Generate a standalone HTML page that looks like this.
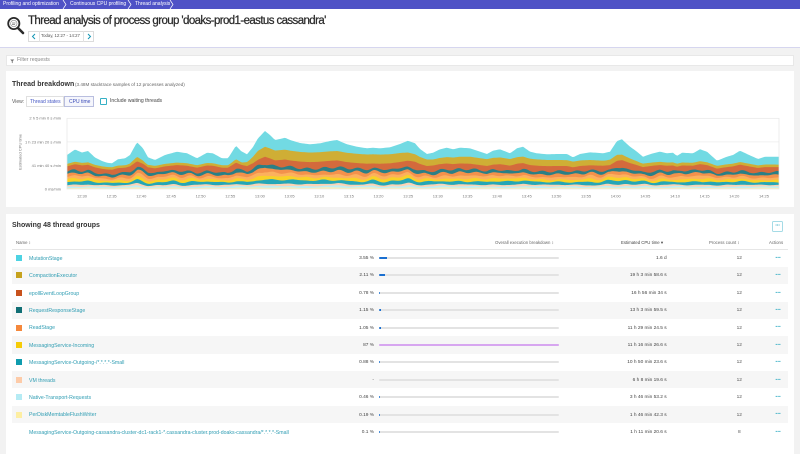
<!DOCTYPE html>
<html><head><meta charset="utf-8">
<style>
*{margin:0;padding:0;box-sizing:border-box}
html,body{width:800px;height:441px;overflow:hidden;background:#f2f2f2;font-family:"Liberation Sans",sans-serif;color:#333}
.a{position:absolute;white-space:nowrap}
.bc{font-size:5px;color:#fff;line-height:5px;top:2px}
.panel{position:absolute;background:#fff}
.row{position:absolute;left:12px;width:776px;height:17.4px}
.row.g{background:#f6f6f6}
.sq{position:absolute;left:4px;top:5.7px;width:6px;height:6px}
.nm{position:absolute;left:17px;top:7.5px;font-size:5.2px;line-height:5.2px;color:#2f9db3;white-space:nowrap}
.pc{position:absolute;right:414px;top:7.8px;font-size:4.8px;line-height:4.8px;color:#444;white-space:nowrap}
.tr{position:absolute;left:367.3px;top:7.7px;width:179.4px;height:2px;background:#e3e3e3;border-radius:1px;overflow:hidden}
.tr i{position:absolute;left:0;top:0;height:2px;background:#1a6fd0}
.cp{position:absolute;right:121.3px;top:7.8px;font-size:4.8px;line-height:4.8px;color:#444;white-space:nowrap}
.ct{position:absolute;left:717.3px;width:20px;text-align:center;top:7.8px;font-size:4.8px;line-height:4.8px;color:#555}
.ac{position:absolute;left:758px;width:16px;text-align:center;top:5.5px;font-size:7px;line-height:7px;color:#27a8c0;font-weight:bold;letter-spacing:-0.5px}
.th{font-size:4.3px;line-height:4.3px;color:#666;top:240.8px}
</style></head><body>

<!-- breadcrumb bar -->
<div class="a" style="left:0;top:0;width:800px;height:9px;background:#4f52c6"></div>
<div class="a bc" style="left:3px">Profiling and optimization</div>
<svg class="a" style="left:62px;top:0" width="6" height="9"><polyline points="1,0 4,4.5 1,9" fill="none" stroke="#fff" stroke-width="0.7"/></svg>
<div class="a bc" style="left:70px">Continuous CPU profiling</div>
<svg class="a" style="left:127px;top:0" width="6" height="9"><polyline points="1,0 4,4.5 1,9" fill="none" stroke="#fff" stroke-width="0.7"/></svg>
<div class="a bc" style="left:135px">Thread analysis</div>
<svg class="a" style="left:169px;top:0" width="6" height="9"><polyline points="1,0 4,4.5 1,9" fill="none" stroke="#fff" stroke-width="0.7"/></svg>

<!-- header -->
<div class="a" style="left:0;top:9px;width:800px;height:39px;background:#fff;border-bottom:1px solid #d6d6ef"></div>
<svg class="a" style="left:6px;top:16px" width="20" height="19">
  <circle cx="7.8" cy="7.5" r="5.6" fill="#fff" stroke="#2a2a2a" stroke-width="1.8"/>
  <circle cx="7.8" cy="7.5" r="3.2" fill="none" stroke="#888" stroke-width="0.6"/>
  <line x1="6" y1="7" x2="9.5" y2="7" stroke="#555" stroke-width="0.6"/>
  <line x1="6" y1="8.5" x2="9" y2="8.5" stroke="#555" stroke-width="0.6"/>
  <line x1="12" y1="12" x2="17" y2="17" stroke="#2a2a2a" stroke-width="2.6" stroke-linecap="round"/>
</svg>
<div class="a" style="left:28px;top:15.8px;font-size:11.5px;line-height:11.5px;letter-spacing:-0.6px;color:#2b2b2b;-webkit-text-stroke:0.25px #2b2b2b">Thread analysis of process group 'doaks-prod1-eastus cassandra'</div>
<div class="a" style="left:28px;top:31px;width:66px;height:11px;border:1px solid #dcdcdc;background:#fff"></div>
<div class="a" style="left:39px;top:31px;width:1px;height:11px;background:#e2e2e2"></div>
<div class="a" style="left:83px;top:31px;width:1px;height:11px;background:#e2e2e2"></div>
<svg class="a" style="left:31px;top:33px" width="6" height="7"><polyline points="4,1 1.5,3.5 4,6" fill="none" stroke="#1496b4" stroke-width="1"/></svg>
<svg class="a" style="left:86px;top:33px" width="6" height="7"><polyline points="2,1 4.5,3.5 2,6" fill="none" stroke="#1496b4" stroke-width="1"/></svg>
<div class="a" style="left:41px;top:34.4px;font-size:4.3px;line-height:4.3px;color:#555">Today, 12:27 - 14:27</div>

<!-- filter bar -->
<div class="a" style="left:6px;top:55px;width:788px;height:11px;background:#fff;border:1px solid #e8e8e8"></div>
<svg class="a" style="left:10px;top:58.5px" width="5" height="5"><polygon points="0.3,0.5 4.2,0.5 2.7,2.3 2.7,4.3 1.8,3.8 1.8,2.3" fill="#777"/></svg>
<div class="a" style="left:17px;top:58px;font-size:5.2px;line-height:5.2px;color:#888">Filter requests</div>

<!-- panel 1 -->
<div class="panel" style="left:6px;top:71px;width:788px;height:136px"></div>
<div class="a" style="left:12px;top:81.4px;font-size:7px;line-height:7px;font-weight:bold;color:#333">Thread breakdown</div>
<div class="a" style="left:75px;top:83.2px;font-size:4.6px;line-height:4.6px;color:#666">(3.48M stacktrace samples of 12 processes analyzed)</div>
<div class="a" style="left:12px;top:99.5px;font-size:5px;line-height:5px;color:#555">View:</div>
<div class="a" style="left:26px;top:96px;width:38px;height:11px;border:1px solid #e0e0e0;background:#fff"></div>
<div class="a" style="left:64px;top:96px;width:30px;height:11px;border:1px solid #b9bedf;background:#f5f6fc"></div>
<div class="a" style="left:30px;top:99.5px;font-size:5px;line-height:5px;color:#4456c4">Thread states</div>
<div class="a" style="left:69px;top:99.5px;font-size:5px;line-height:5px;color:#3a4bb8">CPU time</div>
<div class="a" style="left:100px;top:97.5px;width:7px;height:7px;border:1px solid #35b0c5;border-radius:1px;background:#fff"></div>
<div class="a" style="left:110px;top:99px;font-size:5.1px;line-height:5.1px;color:#444">Include waiting threads</div>

<svg class="a" id="chart" style="left:0;top:110px" width="800" height="95" viewBox="0 110 800 95">
  <g font-family="Liberation Sans, sans-serif" font-size="4px" fill="#777">
    <text x="61" y="119.7" text-anchor="end">2 h 5 min 0 s /min</text>
    <text x="61" y="143.3" text-anchor="end">1 h 23 min 20 s /min</text>
    <text x="61" y="166.8" text-anchor="end">41 min 40 s /min</text>
    <text x="61" y="190.4" text-anchor="end">0 ms/min</text>
    <text transform="translate(21.5,152) rotate(-90)" text-anchor="middle">Estimated CPU time</text>
  </g>
  <line x1="67" y1="141.9" x2="779" y2="141.9" stroke="#ececec" stroke-width="0.7"/>
  <line x1="67" y1="165.4" x2="779" y2="165.4" stroke="#ececec" stroke-width="0.7"/>
  <g id="areas"></g>
  <rect x="67" y="118.3" width="712" height="70.7" fill="none" stroke="#e6e6e6" stroke-width="0.7"/>
  <g id="xt" font-family="Liberation Sans, sans-serif" font-size="4px" fill="#777" text-anchor="middle">
    <text x="82" y="197.5">12:30</text><text x="111.65" y="197.5">12:35</text><text x="141.3" y="197.5">12:40</text><text x="170.95" y="197.5">12:45</text><text x="200.6" y="197.5">12:50</text><text x="230.25" y="197.5">12:55</text><text x="259.9" y="197.5">13:00</text><text x="289.55" y="197.5">13:05</text><text x="319.2" y="197.5">13:10</text><text x="348.85" y="197.5">13:15</text><text x="378.5" y="197.5">13:20</text><text x="408.15" y="197.5">13:25</text><text x="437.8" y="197.5">13:30</text><text x="467.45" y="197.5">13:35</text><text x="497.1" y="197.5">13:40</text><text x="526.75" y="197.5">13:45</text><text x="556.4" y="197.5">13:50</text><text x="586.05" y="197.5">13:55</text><text x="615.7" y="197.5">14:00</text><text x="645.35" y="197.5">14:05</text><text x="675" y="197.5">14:10</text><text x="704.65" y="197.5">14:15</text><text x="734.3" y="197.5">14:20</text><text x="763.95" y="197.5">14:25</text>
  </g>
</svg>

<!-- panel 2 -->
<div class="panel" style="left:6px;top:214px;width:788px;height:240px"></div>
<div class="a" style="left:12px;top:222px;font-size:7px;line-height:7px;font-weight:bold;color:#333">Showing 48 thread groups</div>
<div class="a" style="left:772px;top:221px;width:11px;height:10.5px;border:1px solid #a5dbe6;border-radius:1.5px;background:#fff"></div>
<div class="a" style="left:772px;top:223px;width:11px;text-align:center;font-size:6px;line-height:6px;color:#27a8c0;font-weight:bold;letter-spacing:-0.5px">···</div>

<div class="a th" style="left:16px">Name ↕</div>
<div class="a th" style="left:495px">Overall execution breakdown ↕</div>
<div class="a th" style="left:621px;color:#444">Estimated CPU time ▾</div>
<div class="a th" style="left:709px">Process count ↕</div>
<div class="a th" style="left:769px">Actions</div>
<div class="a" style="left:12px;top:249px;width:776px;height:0.5px;background:#e6e6e6"></div>

<div class="row" style="top:249.3px"><div class="sq" style="background:#4dd3e3"></div><div class="nm">MutationStage</div><div class="pc">3.55 %</div><div class="tr"><i style="width:8px"></i></div><div class="cp">1.6 d</div><div class="ct">12</div><div class="ac">···</div></div>
<div class="row g" style="top:266.7px"><div class="sq" style="background:#c6a21e"></div><div class="nm">CompactionExecutor</div><div class="pc">2.11 %</div><div class="tr"><i style="width:5.7px"></i></div><div class="cp">19 h 3 min 58.6 s</div><div class="ct">12</div><div class="ac">···</div></div>
<div class="row" style="top:284.1px"><div class="sq" style="background:#c8521d"></div><div class="nm">epollEventLoopGroup</div><div class="pc">0.78 %</div><div class="tr"><i style="width:1.2px"></i></div><div class="cp">16 h 56 min 34 s</div><div class="ct">12</div><div class="ac">···</div></div>
<div class="row g" style="top:301.5px"><div class="sq" style="background:#116f75"></div><div class="nm">RequestResponseStage</div><div class="pc">1.15 %</div><div class="tr"><i style="width:2px"></i></div><div class="cp">13 h 3 min 59.5 s</div><div class="ct">12</div><div class="ac">···</div></div>
<div class="row" style="top:318.9px"><div class="sq" style="background:#f5883c"></div><div class="nm">ReadStage</div><div class="pc">1.05 %</div><div class="tr"><i style="width:1.8px"></i></div><div class="cp">11 h 29 min 24.5 s</div><div class="ct">12</div><div class="ac">···</div></div>
<div class="row g" style="top:336.3px"><div class="sq" style="background:#f6cc08"></div><div class="nm">MessagingService-Incoming</div><div class="pc">87 %</div><div class="tr"><i style="width:179.4px;background:#d7a6f0"></i></div><div class="cp">11 h 16 min 26.6 s</div><div class="ct">12</div><div class="ac">···</div></div>
<div class="row" style="top:353.7px"><div class="sq" style="background:#0f9cae"></div><div class="nm">MessagingService-Outgoing-/*.*.*.*-Small</div><div class="pc">0.88 %</div><div class="tr"><i style="width:1.2px"></i></div><div class="cp">10 h 50 min 23.6 s</div><div class="ct">12</div><div class="ac">···</div></div>
<div class="row g" style="top:371.1px"><div class="sq" style="background:#fdcba8"></div><div class="nm">VM threads</div><div class="pc">-</div><div class="tr"></div><div class="cp">6 h 8 min 19.6 s</div><div class="ct">12</div><div class="ac">···</div></div>
<div class="row" style="top:388.5px"><div class="sq" style="background:#b5ebf4"></div><div class="nm">Native-Transport-Requests</div><div class="pc">0.46 %</div><div class="tr"><i style="width:1px"></i></div><div class="cp">3 h 46 min 53.2 s</div><div class="ct">12</div><div class="ac">···</div></div>
<div class="row g" style="top:405.9px"><div class="sq" style="background:#fdeea2"></div><div class="nm">PerDiskMemtableFlushWriter</div><div class="pc">0.19 %</div><div class="tr"><i style="width:0.6px"></i></div><div class="cp">1 h 46 min 42.3 s</div><div class="ct">12</div><div class="ac">···</div></div>
<div class="row" style="top:423.3px"><div class="nm">MessagingService-Outgoing-cassandra-cluster-dc1-rack1-*.cassandra-cluster.prod-doaks-cassandra/*.*.*.*-Small</div><div class="pc">0.1 %</div><div class="tr"><i style="width:0.5px"></i></div><div class="cp">1 h 11 min 20.6 s</div><div class="ct">8</div><div class="ac">···</div></div>

<script>
(function(){
var P=[[67,155],[75,149.5],[82,152.5],[88,151],[95,157.5],[102,161],[107,162.7],[112,163.3],[118,159.3],[125,158.3],[130,155],[137,142.3],[143,148.3],[148,157.3],[155,160],[165,155],[177,151.7],[187,153.3],[197,158.3],[207,152.7],[213,153.3],[222,158.3],[228,158.3],[236,145.7],[241,151],[247,154.3],[253,147],[258,138.3],[265,131],[270,135],[275,140],[280,139],[285,137.7],[290,140],[300,143],[310,144.3],[320,143.3],[330,141],[337,140],[347,144.3],[357,146.7],[367,148.3],[373,147.7],[380,148.3],[390,147.3],[400,144],[408,140.7],[415,143.3],[420,149],[427,154],[433,152.7],[440,149.3],[447,147.7],[453,149.3],[460,147.7],[470,148.3],[480,151.7],[487,154],[493,150.7],[500,149.3],[510,153.3],[517,148.3],[523,146.7],[530,151.7],[537,153.3],[547,154.3],[557,154],[567,154],[573,157.3],[580,154],[590,152.3],[603,153.3],[610,151.7],[617,141],[622,139.3],[630,146.7],[637,151.7],[643,156.7],[653,153.3],[660,151.7],[667,153.3],[673,152.7],[677,156],[682,152.7],[693,153.3],[700,149.3],[707,151.7],[717,160.7],[727,156.7],[733,155],[740,150.7],[747,154],[758,159],[765,156.7],[779,156.7]];
var G=[[67,2.5],[128,2.5],[137,4.5],[146,2.5],[230,2.5],[236,3.5],[242,2.5],[250,5],[258,9],[265,10],[320,9.5],[400,9],[420,7],[433,6],[470,7],[520,6.5],[560,6],[605,5],[617,6],[640,3.5],[680,3],[779,2.5]];
function ip(a,x){if(x<=a[0][0])return a[0][1];for(var i=1;i<a.length;i++){if(x<=a[i][0]){var x0=a[i-1][0],y0=a[i-1][1],x1=a[i][0],y1=a[i][1];return y0+(y1-y0)*(x-x0)/(x1-x0);}}return a[a.length-1][1];}
var L=[["#fcefb4",0.05],["#c2eef4",0.06],["#fcd3b6",0.07],["#25a6b6",0.13],["#f8d228",0.11],["#fcb15e",0.11],["#f3914c",0.12],["#2a7f86",0.12],["#d46a3c",0.23]];
var base=189,xs=[];for(var x=67;x<779;x+=1.5)xs.push(x);xs.push(779);
var tops=[];for(var k=0;k<L.length+2;k++)tops.push([]);
xs.forEach(function(x){
  var top=ip(P,x),T=base-top,B=9+0.4*T,g=ip(G,x);
  if(B+g>T-1.5){B=Math.max(0,T-1.5-g);}
  var c=base,raw=[],s=0;
  for(var i=0;i<L.length;i++){var t=L[i][1]*(1+0.22*Math.sin(x/6.3*(1+i*0.17)+i*1.9)+0.1*Math.sin(x/17+i));raw.push(t);s+=t;}
  for(var i=0;i<L.length;i++){c-=raw[i]*B/s;tops[i].push([x,c]);}
  c-=g;tops[L.length].push([x,Math.max(c,top+1)]);
  tops[L.length+1].push([x,top]);
});
var cols=L.map(function(l){return l[0]});cols.push("#cfae35");cols.push("#72dae3");
var ns="http://www.w3.org/2000/svg",g=document.getElementById("areas");
for(var k=cols.length-1;k>=0;k--){
  var d="M67,"+base;tops[k].forEach(function(p){d+=" L"+p[0].toFixed(2)+","+p[1].toFixed(2);});d+=" L779,"+base+" Z";
  var pa=document.createElementNS(ns,"path");pa.setAttribute("d",d);pa.setAttribute("fill",cols[k]);g.appendChild(pa);
}
})();
</script>
</body></html>
